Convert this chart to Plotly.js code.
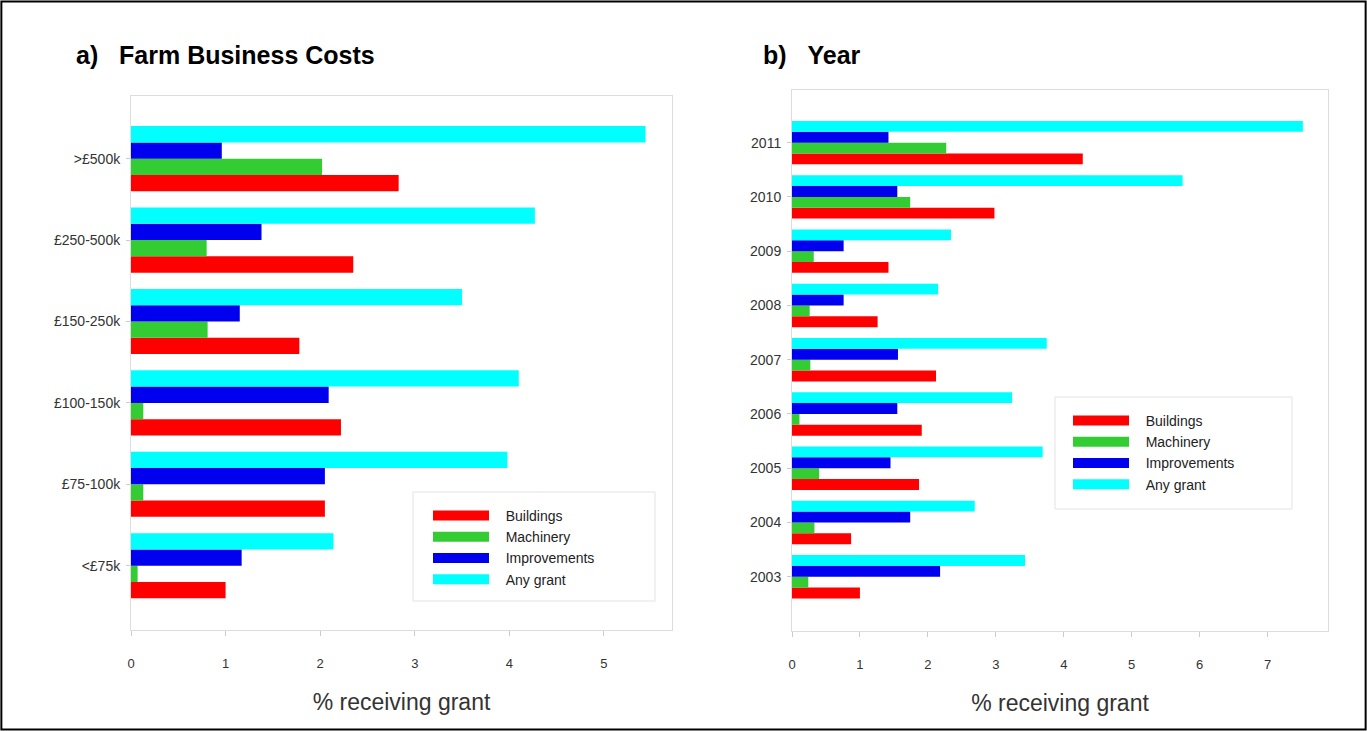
<!DOCTYPE html>
<html>
<head>
<meta charset="utf-8">
<script src="https://cdn.plot.ly/plotly-3.0.1.min.js"></script>
<style>
  html, body { margin: 0; padding: 0; background: #fff; }
  #chart { width: 1367px; height: 731px; }
</style>
</head>
<body>
<div id="chart"></div>
<script>
// ---- Data ----
// Panel a) Farm Business Costs, listed bottom to top
const costCategories   = ['<£75k', '£75-100k', '£100-150k', '£150-250k', '£250-500k', '>£500k'];
const costBuildings    = [1.00, 2.05, 2.22, 1.78, 2.35, 2.83];
const costMachinery    = [0.07, 0.13, 0.13, 0.81, 0.80, 2.02];
const costImprovements = [1.17, 2.05, 2.09, 1.15, 1.38, 0.96];
const costAnyGrant     = [2.14, 3.98, 4.10, 3.50, 4.27, 5.44];

// Panel b) Year, listed bottom to top
const years            = ['2003', '2004', '2005', '2006', '2007', '2008', '2009', '2010', '2011'];
const yearBuildings    = [1.00, 0.87, 1.87, 1.91, 2.12, 1.26, 1.42, 2.98, 4.28];
const yearMachinery    = [0.24, 0.33, 0.40, 0.11, 0.27, 0.26, 0.32, 1.74, 2.27];
const yearImprovements = [2.18, 1.74, 1.45, 1.55, 1.56, 0.76, 0.76, 1.55, 1.42];
const yearAnyGrant     = [3.43, 2.69, 3.69, 3.24, 3.75, 2.15, 2.34, 5.75, 7.52];

const seriesNames  = ['Buildings', 'Machinery', 'Improvements', 'Any grant'];
const seriesColors = ['#ff0000', '#33cc33', '#0000ee', '#00ffff'];

const costSeries = [costBuildings, costMachinery, costImprovements, costAnyGrant];
const yearSeries = [yearBuildings, yearMachinery, yearImprovements, yearAnyGrant];

const traces = [];
seriesNames.forEach((name, i) => {
  traces.push({
    type: 'bar', orientation: 'h', name: name,
    x: costSeries[i], y: costCategories,
    xaxis: 'x', yaxis: 'y',
    marker: { color: seriesColors[i], line: { width: 0 } },
    showlegend: false, hoverinfo: 'x+y+name'
  });
  traces.push({
    type: 'bar', orientation: 'h', name: name,
    x: yearSeries[i], y: years,
    xaxis: 'x2', yaxis: 'y2',
    marker: { color: seriesColors[i], line: { width: 0 } },
    showlegend: false, hoverinfo: 'x+y+name'
  });
});
// legend entries (wide swatches like the reference)
const pad = '\u00a0\u00a0\u00a0';
seriesNames.forEach((name, i) => {
  traces.push({
    type: 'scatter', mode: 'lines', name: pad + name, x: [null], y: [null],
    xaxis: 'x', yaxis: 'y', legend: 'legend',
    line: { color: seriesColors[i], width: 12 }, hoverinfo: 'skip'
  });
  traces.push({
    type: 'scatter', mode: 'lines', name: pad + name, x: [null], y: [null],
    xaxis: 'x2', yaxis: 'y2', legend: 'legend2',
    line: { color: seriesColors[i], width: 12 }, hoverinfo: 'skip'
  });
});

const W = 1367, H = 731;
const px = v => v / W;
const py = v => 1 - v / H;

const fontFam = '"Liberation Sans", Arial, Helvetica, sans-serif';
const tickFont = { family: fontFam, size: 13, color: '#333' };

function xAxis(domain, range, anchor) {
  return {
    domain: domain, range: range, anchor: anchor,
    showgrid: false, zeroline: false,
    showline: true, mirror: true, linecolor: '#dddddd', linewidth: 1,
    ticks: 'outside', ticklen: 5, tickcolor: '#cccccc',
    dtick: 1, tick0: 0,
    tickfont: tickFont, ticklabelstandoff: 16,
    title: { text: '% receiving grant', font: { family: fontFam, size: 23, color: '#333' }, standoff: 24 }
  };
}
function yAxis(domain, range, anchor) {
  return {
    domain: domain, range: range, anchor: anchor, type: 'category',
    showgrid: false, zeroline: false,
    showline: true, mirror: true, linecolor: '#dddddd', linewidth: 1,
    ticks: 'outside', ticklen: 4, tickcolor: '#cccccc',
    tickfont: { family: fontFam, size: 14, color: '#333' }, ticklabelstandoff: 3
  };
}

const legendBase = {
  bgcolor: 'rgba(0,0,0,0)', borderwidth: 0,
  font: { family: fontFam, size: 14, color: '#222' },
  itemwidth: 56, tracegroupgap: 0, xanchor: 'left', yanchor: 'top',
  itemclick: false, itemdoubleclick: false
};

const layout = {
  width: W, height: H,
  margin: { l: 0, r: 0, t: 0, b: 0 },
  paper_bgcolor: '#ffffff', plot_bgcolor: '#ffffff',
  barmode: 'group', bargap: 0.2, bargroupgap: 0,
  xaxis:  xAxis([px(131), px(672)], [0, 5.72], 'y'),
  yaxis:  yAxis([py(630), py(96)], [-0.79, 5.77], 'x'),
  xaxis2: xAxis([px(792), px(1328)], [0, 7.89], 'y2'),
  yaxis2: yAxis([py(631), py(90)], [-1.0, 8.97], 'x2'),
  legend:  Object.assign({}, legendBase, { x: px(428), y: py(500) }),
  legend2: Object.assign({}, legendBase, { x: px(1068), y: py(405) }),
  shapes: [
    { type: 'rect', xref: 'paper', yref: 'paper', x0: 0.001, x1: 0.999, y0: 0.002, y1: 0.998,
      line: { color: '#000', width: 2 }, fillcolor: 'rgba(0,0,0,0)', layer: 'above' },
    { type: 'rect', xref: 'paper', yref: 'paper', x0: px(413), x1: px(655), y0: py(601), y1: py(492),
      line: { color: '#e3e3e3', width: 1 }, fillcolor: '#ffffff', layer: 'below' },
    { type: 'rect', xref: 'paper', yref: 'paper', x0: px(1055), x1: px(1292), y0: py(509), y1: py(397),
      line: { color: '#e3e3e3', width: 1 }, fillcolor: '#ffffff', layer: 'below' }
  ],
  annotations: [
    { xref: 'paper', yref: 'paper', x: px(74), y: py(55), xanchor: 'left', yanchor: 'middle',
      text: 'a)\u00a0\u00a0\u00a0Farm Business Costs', showarrow: false,
      font: { family: fontFam, size: 25, color: '#000', weight: 'bold' } },
    { xref: 'paper', yref: 'paper', x: px(761), y: py(55), xanchor: 'left', yanchor: 'middle',
      text: 'b)\u00a0\u00a0\u00a0Year', showarrow: false,
      font: { family: fontFam, size: 25, color: '#000', weight: 'bold' } }
  ],
  hovermode: 'closest'
};

Plotly.newPlot('chart', traces, layout, { displayModeBar: false, staticPlot: false });
</script>
</body>
</html>
